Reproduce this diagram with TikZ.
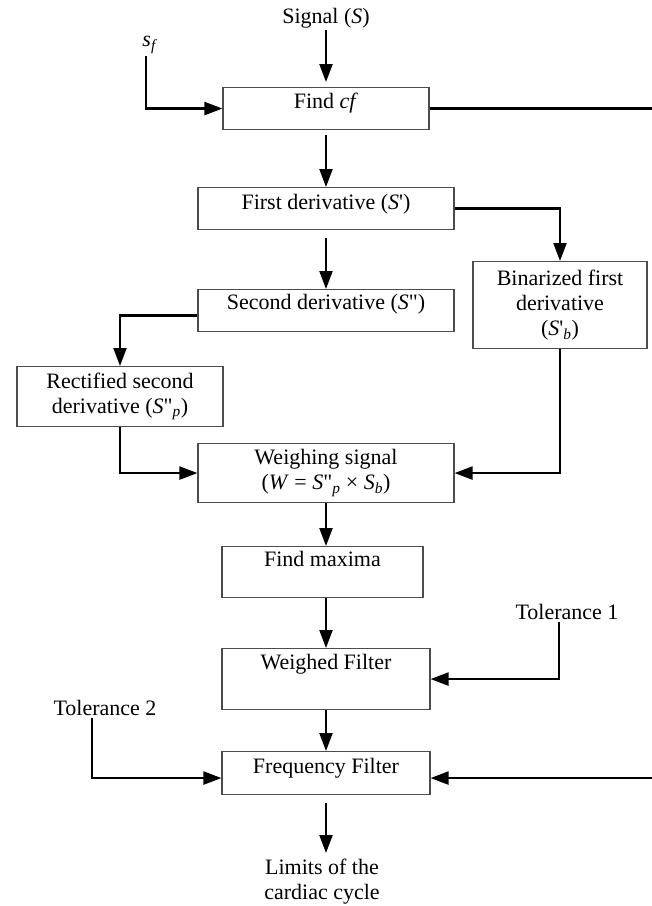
\documentclass[tikz,border=0pt]{standalone}
\usepackage{fontspec}
\setmainfont{Liberation Serif}
\usepackage{tikz}
\usetikzlibrary{arrows.meta}
\tikzset{flow line/.style={line width=2.2pt,color=#1},
		 flow line/.default=black}
\tikzset{flow arrow/.style={flow line,-{Triangle[length=18pt,width=13pt]}}}
\tikzset{flow box/.style={draw=gray!60!black,line width=1.1pt,inner sep=0pt,anchor=north}}
\tikzset{flow label/.style={inner sep=2pt}}

\begin{document}
\begin{tikzpicture}[x=1pt,y=-1pt,font=\fontsize{22}{25}\selectfont]
	\useasboundingbox (0,0) rectangle (652,906);
	\node[flow label] (sig) at (326,18) {Signal (\textit{S})};
	\node[flow label] (sf) at (150,45) {\textit{s}\textsubscript{\textit{f}}};
	\node[flow box,minimum width=206pt,text height=21pt,text depth=21pt] (cf) at (326,87) {Find \textit{cf}};
	\node[flow box,minimum width=256pt,text height=22pt,text depth=20pt] (fd) at (326,187) {First derivative (\textit{S}\textquotesingle)};
	\node[flow box,minimum width=256pt,text height=20pt,text depth=22pt] (sd) at (326,289) {Second derivative (\textit{S}\textquotedbl)};
	\node[flow box,minimum width=174pt,minimum height=87pt,align=center] (bin) at (560,261)
		{Binarized first\\derivative\\(\textit{S}\textquotesingle\textsubscript{\textit{b}})};
	\node[flow box,minimum width=206pt,minimum height=60pt,align=center] (rec) at (120,366)
		{Rectified second\\derivative (\textit{S}\textquotedbl\textsubscript{\textit{p}})};
	\node[flow box,minimum width=256pt,minimum height=59pt,align=center] (ws) at (326,443)
		{Weighing signal\\(\textit{W} = \textit{S}\textquotedbl\textsubscript{\textit{p}} × \textit{S}\textsubscript{\textit{b}})};
	\node[flow box,minimum width=201pt,text height=20pt,text depth=31pt] (mx) at (322.5,546) {Find maxima};
	\node[flow box,minimum width=208pt,text height=21pt,text depth=40pt] (wf) at (326,648) {Weighed Filter};
	\node[flow box,minimum width=208pt,text height=22pt,text depth=21pt] (ff) at (326,751) {Frequency Filter};
	\node[flow label] (t1) at (567,612) {Tolerance 1};
	\node[flow label] (t2) at (105,708) {Tolerance 2};
	\node[inner sep=0pt,anchor=north,align=center] (lim) at (322,859) {Limits of the\\cardiac cycle};
	\coordinate (rt) at (652,108);
	\coordinate (ffl) at ([yshift=-5pt]ff.west);
	\coordinate (ffr) at ([yshift=-5pt]ff.east);
	\coordinate (sdl) at ([yshift=-5pt]sd.west);

	\draw[flow arrow,shorten >=5pt] (sig.south) -- (sig.south |- cf.north);
	\draw[flow arrow] ([xshift=-4pt]sf.south) |- (cf.west);
	\draw[flow line] (cf.east) -- (cf.east -| rt);
	\draw[flow arrow,shorten <=5pt] (cf.south) -- (cf.south |- fd.north);
	\draw[flow arrow] (fd.east) -| (bin.north);
	\draw[flow arrow,shorten <=8pt] (fd.south) -- (sd.north);
	\draw[flow arrow] (sdl) -| (rec.north);
	\draw[flow arrow] (rec.south) |- (ws.west);
	\draw[flow arrow] (bin.south) |- (ws.east);
	\draw[flow arrow] (ws.south) -- (ws.south |- mx.north);
	\draw[flow arrow] (mx.south -| wf) -- (wf.north);
	\draw[flow arrow] ([xshift=-8pt]t1.south) |- (wf.east);
	\draw[flow arrow] (wf.south) -- (ff.north);
	\draw[flow arrow] ([xshift=-13pt]t2.south) |- (ffl);
	\draw[flow arrow] (ffr -| rt) -- (ffr); % vuelta desde cf
	\draw[flow arrow,shorten <=8pt,shorten >=6pt] (ff.south) -- (ff.south |- lim.north);
\end{tikzpicture}
\end{document}
